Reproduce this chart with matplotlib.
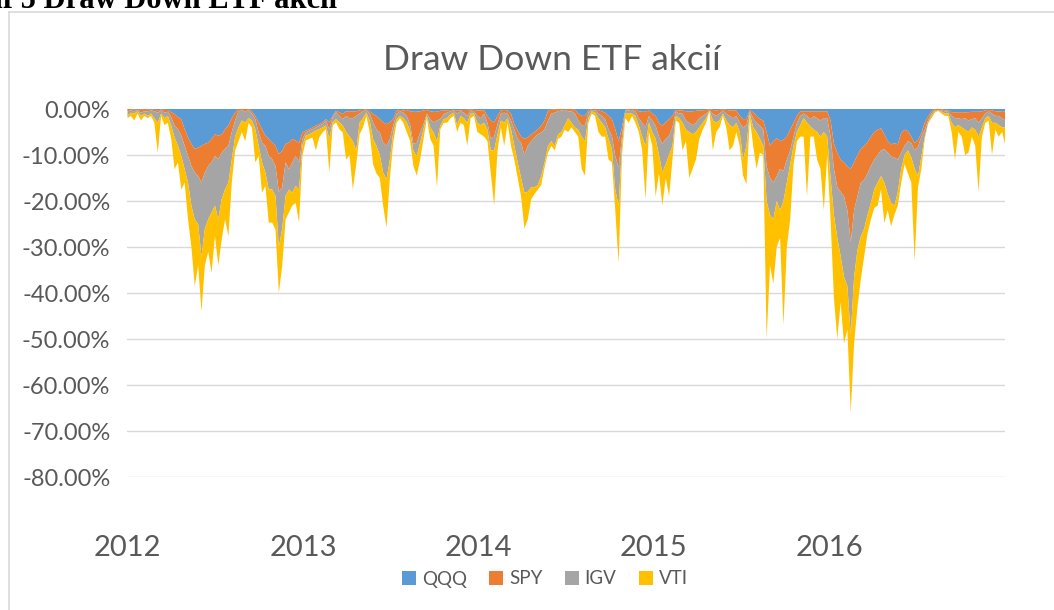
import matplotlib
matplotlib.use("Agg")
import matplotlib.pyplot as plt
from matplotlib.ticker import FuncFormatter, FixedLocator
from matplotlib.patches import Patch
from matplotlib.lines import Line2D
import pandas as pd
import numpy as np

# ---- data (drawdowns in %, weekly observations) ----
dates = pd.date_range("2012-01-02", periods=262, freq="7D")

qqq = [0, 0, -0.2, 0, -0.2, 0, -0.1, 0, -0.2, -0.3, -0.1, -0.2, -0.2, -0.7, -1.1, -1.8, -2.2, -4.4, -6.2, -7.6,
       -8.7, -8.4, -8, -7.6, -7.3, -6.5, -5.5, -5.8, -5.5, -4.4, -3.6, -2, -0.8, 0, 0, 0, 0, -0.5, -1.5, -2.9,
       -4.4, -5.8, -6.5, -7.3, -8, -9.8, -9.1, -7.6, -7.3, -6.5, -6.9, -7.3, -5.1, -4.7, -4.4, -4, -3.6, -3.3, -2.9, -2.2,
       -2.9, -1.5, -0.4, -0.7, -1.1, -0.5, -0.5, -0.5, -0.5, -0.3, -0.2, 0, -0.5, -1.1, -1.5, -2.2, -2.9, -3.3, -2.9, -2.2,
       -0.4, -0.2, -0.3, -0.2, -0.5, -0.6, -0.6, -0.5, -0.3, -0.2, -0.5, -0.6, -0.6, -0.4, -0.3, -0.3, -0.2, -0.2, -0.3, -0.3,
       -0.2, -0.2, 0, -0.2, -0.3, -0.3, -0.3, -1.5, -2.5, -2.9, -1.5, -0.3, -0.2, -0.3, -1, -3.3, -4.7, -6, -6.5, -6.2,
       -5.5, -5, -4.4, -3.6, -2.5, -0.4, -0.1, -0.1, 0, 0, 0, 0, 0, -0.2, -1, -1.5, -1.5, -0.3, 0, 0,
       -0.3, -0.5, -0.8, -1.5, -2.2, -4.4, -7, -4, -0.2, 0, 0, 0, -0.5, -0.6, -0.6, -0.3, -1, -1.5, -3, -3.6,
       -2.9, -2.2, -1.5, -0.2, -0.3, -0.3, -0.5, -0.5, -0.5, -0.4, -0.3, -0.3, -0.2, 0, -0.2, -0.3, -0.2, 0, -0.2, -0.3,
       -0.3, -0.3, -1.5, -2.2, -2.2, -0.2, -0.7, -1.5, -2.2, -2.5, -5, -8, -7, -6.3, -7, -6.7, -6, -4.5, -3, -1.5,
       -0.5, -0.5, -0.5, -0.5, -0.5, -0.5, -0.5, -0.5, -0.5, -2.5, -7.5, -9.5, -11, -11.6, -12.5, -13, -11.6, -10, -8.7, -8,
       -7.2, -6, -5, -4.5, -4.2, -5.5, -7, -7.7, -7.4, -7.7, -5.2, -4.5, -4.8, -6, -7.4, -6.7, -5.2, -3, -1.6, -0.5,
       0, 0, 0, -0.3, -0.3, -0.7, -0.7, -0.7, -0.7, -0.7, -0.7, -0.6, -0.6, -0.6, -0.5, -0.3, -0.2, -0.3, -0.5, -0.5,
       -0.6, -0.6]

spy = [-0.5, -0.3, -0.3, -0.2, -0.6, -0.5, -0.4, -0.3, -0.3, -0.5, -0.2, -0.6, -0.4, -1.1, -2.5, -2.6, -3.6, -3.6, -4, -4.8,
       -5.1, -6.1, -8, -6.2, -5.1, -5.1, -4.7, -5.1, -4, -4.3, -4.4, -3, -1.7, -0.5, -0.3, -0.5, -0.3, -0.5, -0.7, -2.2,
       -2.9, -2.2, -3.7, -3.6, -4.4, -8.2, -7.9, -4, -5.8, -5.1, -3.3, -4.3, -1.4, -0.4, -0.3, -0.4, -0.4, -0.3, -0.4, -0.3,
       -1.5, -0.3, -0.3, -0.8, -1.1, -1, -1.5, -1.5, -1, -0.7, -0.3, -0.3, -0.5, -1.8, -2.9, -2.9, -4.4, -4.7, -3.6, -1.4,
       -0.7, -0.3, -0.5, -1.3, -2.8, -7, -6.7, -4.6, -3, -0.8, -1.7, -2.3, -1.9, -1.8, -0.8, -0.5, -0.3, -0.1, -0.7, -0.2,
       -0.6, -1.3, -0.3, -0.3, -1.2, -1.7, -0.7, -1.5, -4, -3.1, -1.8, -0.7, -0.6, -0.7, -1.5, -1.1, -1.8, -1.3, -3.5, -1.8,
       -1.5, -1.2, -1.1, -1.5, -1.9, -2.1, -0.9, -0.7, -0.5, -0.3, -0.2, -0.5, -0.5, -0.8, -1.5, -2, -2, -0.5, -0.2, -0.3,
       -0.7, -1, -1.4, -2.9, -3.6, -5.8, -5.7, -2, -0.2, -0.3, -0.2, -0.5, -1.5, -2.4, -3.4, -1.2, -1.5, -2.1, -3, -4,
       -3.6, -3.6, -2.5, -0.3, -0.7, -0.7, -2, -2.5, -3, -2.6, -1.7, -1.2, -0.8, -0.2, -0.8, -1.2, -0.8, -0.3, -0.8, -1.2,
       -1.7, -1.2, -1.5, -1.8, -1.4, -0.3, -1.3, -1.5, -1.4, -1.9, -7.5, -7, -9, -8.3, -6, -6.8, -5, -4.5, -3, -1.5,
       -1, -0.5, -1, -1.7, -1.1, -1.5, -2, -1.5, -1.5, -3.5, -5.5, -7.5, -7, -7.4, -9.5, -16, -10.4, -9, -7.3, -7.4,
       -6.8, -6.4, -6, -5.5, -4.8, -3.2, -2.5, -2.6, -3.2, -3.3, -4.3, -3.5, -2.2, -1.4, -1.6, -1.5, -0.8, -1.5, -0.9, -0.5,
       -0.3, -0.2, -0.3, -0.2, -0.3, -0.8, -1.3, -1.3, -1.5, -1.3, -1.8, -1.6, -1.4, -2.4, -1.5, -0.7, -0.3, -0.7, -1, -1,
       -1.4, -1.9]

igv = [-1, -0.5, -0.5, -0.3, -0.7, -0.5, -1, -0.7, -1.5, -2.2, -0.7, -1.2, -0.9, -1.8, -2.6, -3.6, -4.4, -5.1, -5.8, -8.6,
       -10.2, -10.5, -16, -12.2, -11.6, -10.9, -10.8, -13.1, -10.1, -8.8, -8, -6, -3.5, -3.5, -2.2, -2.5, -1.7, -1.5, -2.2, -2.9,
       -4.3, -5.8, -7.3, -6.6, -6.5, -12, -9, -7.3, -4.4, -6.6, -6.5, -5.9, -1.5, -0.7, -0.8, -0.7, -0.7, -0.8, -0.7, -1.1,
       -2.1, -1.1, -1.5, -1.4, -1.4, -3.5, -4, -5, -7.5, -2, -1.5, -0.5, -1.5, -3.6, -3.6, -4.9, -6.5, -7.3, -4.5, -1.5,
       -1.1, -1, -1.2, -1.4, -1.4, -1.5, -2.9, -2.2, -1.1, -0.5, -1.8, -2.2, -4.5, -1.4, -1.1, -1.2, -0.7, -0.5, -2.5, -1,
       -1.2, -1.5, -0.7, -0.5, -1.5, -1.5, -2, -1.5, -2.5, -3, -2.2, -1.5, -2.2, -1, -1.9, -3.6, -5.1, -7.7, -8.2, -10,
       -10, -10.8, -11, -9.4, -7.2, -5.5, -6, -7.2, -5, -4.7, -3.3, -1.5, -2.5, -3, -2, -2.5, -3.5, -1.2, -0.3, -0.5,
       -1, -1.5, -1.8, -2.1, -2.9, -7.3, -8.3, -2, -0.6, -0.7, -0.8, -1, -1.5, -3, -4, -1.5, -2.5, -2.9, -4, -6.2,
       -5.5, -4.2, -4, -1, -1, -2, -2, -2, -2, -2, -2, -1.5, -1, -0.2, -1.5, -1.5, -1.5, -0.7, -1.5, -2,
       -2, -1.5, -2, -7, -4.4, -0.5, -2, -2, -2.9, -3.6, -7.5, -8, -8, -5.4, -9, -6.5, -5, -3, -2, -2,
       -2, -1, -1.5, -1.6, -2.9, -3, -3.5, -3, -4, -9, -10, -11, -14, -17.5, -16.5, -20, -14.5, -11.6, -11.7, -10.6,
       -9, -8, -6.5, -6, -5.6, -7.3, -9, -10.1, -10.4, -7, -3.5, -2, -2, -3.1, -4, -6.4, -4.3, -1.5, -0.5, -0.5,
       -0.2, -0.1, -0.3, -0.5, -0.4, -1.5, -2, -1.5, -1.8, -2.5, -2.5, -1.8, -2.5, -3, -2, -1, -1, -2, -1.5, -2,
       -2, -1.5]

vti = [-0.5, -0.7, -1.5, -0.5, -1, -0.5, -0.5, -0.5, -1, -6.5, -0.5, -1.5, -1.5, -2.9, -6.9, -3.6, -7.3, -2.9, -8, -9,
       -14.5, -9, -12, -8, -7, -13.1, -6.6, -10, -8.8, -6.5, -11.6, -5, -3, -3, -2.5, -4, -1, -1.5, -7.2, -2.2,
       -6.6, -2.9, -7.2, -7.2, -7.3, -10, -8, -5.1, -5, -2.8, -3.7, -7.2, -2.2, -1.1, -1, -1.1, -4.3, -1.8, -1.1, -0.8,
       -7.3, -0.7, -0.7, -1.5, -1.5, -6, -4, -10.5, -3, -2.5, -2, -0.7, -2.5, -5.5, -6, -5, -7.2, -10.5, -4, -2.2,
       -0.8, -0.5, -1, -2.1, -2.2, -3.3, -4.3, -3.7, -2.1, -0.5, -2.5, -2.9, -10, -0.8, -0.8, -1, -0.8, -0.7, -1.5, -1.5,
       -1.5, -5, -1, -0.5, -2, -2, -3, -2.5, -5, -12, -3.5, -1.5, -5, -1, -3.6, -3, -3.4, -4, -7.8, -6,
       -2.6, -1.5, -1, -2, -1.1, -1.5, -1, -1, -1, -1, -1, -3, -1, -1, -1.5, -7, -7.5, -1, -0.5, -0.7,
       -3, -3, -2, -4.5, -2.9, -4.5, -12.5, -2, -1, -2, -0.5, -1.5, -1.5, -3, -11.6, -2, -3, -12.5, -4, -7.2,
       -3, -9, -3, -1, -1, -6, -2.5, -10, -7.5, -6, -2.5, -1.5, -1, -0.1, -6.5, -2, -1.5, -0.5, -1.5, -5.5,
       -4, -2, -3, -3.5, -8.4, -1, -4, -8, -3, -2, -30, -11, -14, -10, -6, -27, -14, -12, -4, -2,
       -2.5, -4, -16, -2.2, -1.5, -6, -7, -17, -4, -9, -18, -22, -10, -14.5, -9.5, -17, -14.5, -12.4, -9.3, -6,
       -4, -3.6, -4, -5, -2.9, -8.8, -3.5, -5.1, -2, -3, -3, -2, -5, -5.5, -20, -2.4, -2.7, -0.5, -0.2, -0.5,
       -0.3, -0.1, -0.4, -0.5, -0.5, -2, -7, -1.5, -2, -5.5, -4.5, -2, -3.5, -12, -2, -1, -1, -7, -1.5, -2.5,
       -1, -4]

series_names = ["QQQ", "SPY", "IGV", "VTI"]
series_colors = ["#5B9BD5", "#ED7D31", "#A5A5A5", "#FFC000"]
yticks = [0, -10, -20, -30, -40, -50, -60, -70, -80]
year_ticks = ["2012", "2013", "2014", "2015", "2016"]

# ---- figure ----
W, H = 1054, 610
fig = plt.figure(figsize=(W / 100, H / 100), dpi=100)
FONT = "Lato"
TXT = "#595959"

ax = fig.add_axes([127 / W, 1 - 477 / H, (1005 - 127) / W, (477 - 109) / H])

ax.stackplot(dates, np.array(qqq), np.array(spy), np.array(igv), np.array(vti),
             colors=series_colors, linewidth=0, antialiased=True, zorder=2)

ax.set_ylim(-80, 0)
ax.set_xlim(pd.Timestamp("2012-01-01"), pd.Timestamp("2017-01-01"))
ax.yaxis.set_major_locator(FixedLocator(yticks))
ax.yaxis.set_major_formatter(FuncFormatter(lambda v, p: f"{v:.2f}%" if v != 0 else "0.00%"))
ax.grid(axis="y", color="#D9D9D9", linewidth=1.0, zorder=0)
ax.set_axisbelow(True)

year_pos = [pd.Timestamp(f"{y}-01-01") for y in year_ticks]
ax.set_xticks(year_pos)
ax.set_xticklabels(year_ticks)

for s in ax.spines.values():
    s.set_visible(False)
ax.tick_params(axis="both", length=0)
ax.tick_params(axis="y", labelsize=17, labelcolor=TXT, pad=12)
ax.tick_params(axis="x", labelsize=21, labelcolor=TXT, pad=42)
for lab in ax.get_yticklabels() + ax.get_xticklabels():
    lab.set_fontfamily(FONT)

# title
fig.text(552 / W, 1 - 60 / H, "Draw Down ETF akcií", ha="center", va="center",
         fontsize=25.5, color=TXT, family=FONT)

# legend
handles = [Patch(facecolor=c, edgecolor="none") for c in series_colors]
leg = fig.legend(handles, series_names, loc="center", bbox_to_anchor=(545 / W, 1 - 579 / H),
                 ncol=4, frameon=False, handlelength=0.75, handleheight=0.75,
                 handletextpad=0.3, columnspacing=1.2, prop={"family": FONT, "size": 13.5})
for t in leg.get_texts():
    t.set_color(TXT)

# chart frame (left and top edges visible)
fig.add_artist(Line2D([9 / W, 9 / W], [0, 1 - 12 / H], transform=fig.transFigure,
                      color="#D9D9D9", linewidth=1.2))
fig.add_artist(Line2D([9 / W, 1], [1 - 12 / H, 1 - 12 / H], transform=fig.transFigure,
                      color="#D9D9D9", linewidth=1.2))

# cut-off document caption at the very top
fig.text(-50 / W, 1 - 8 / H, "Graf 5 Draw Down ETF akcií", ha="left", va="baseline",
         fontsize=22, fontweight="bold", family="Liberation Serif", color="black")

fig.savefig("out.png", dpi=100)
